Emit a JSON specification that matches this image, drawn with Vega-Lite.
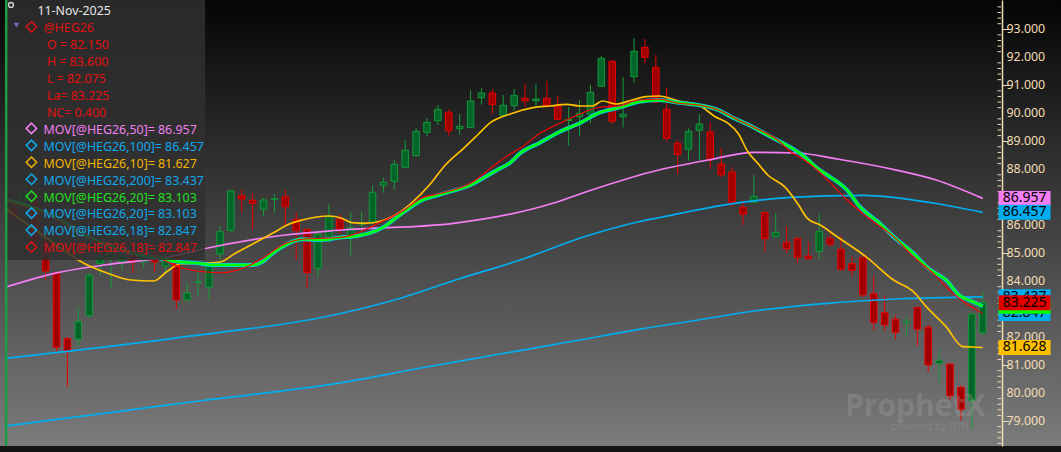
{
  "$schema": "https://vega.github.io/schema/vega-lite/v6.json",
  "width": 1061,
  "height": 446,
  "autosize": {"type": "none"},
  "padding": {"left": 0, "top": 0, "right": 0, "bottom": 6},
  "background": "#141414",
  "config": {
    "view": {"stroke": null, "fill": {"gradient": "linear", "x1": 0, "y1": 0, "x2": 0, "y2": 1, "stops": [{"offset": 0, "color": "#050505"}, {"offset": 1, "color": "#7b7b7b"}]}},
    "font": "Noto Sans",
    "text": {"font": "Noto Sans", "fontSize": 12.4, "align": "left", "baseline": "alphabetic"}
  },
  "datasets": {
    "candles": [
      {"i":0,"o":86.613,"h":86.72,"l":86.184,"c":86.327},
      {"i":1,"o":86.827,"h":87.328,"l":86.72,"c":87.185},
      {"i":2,"o":86.827,"h":86.97,"l":85.291,"c":85.433},
      {"i":3,"o":85.433,"h":85.541,"l":84.04,"c":84.362},
      {"i":4,"o":84.301,"h":84.336,"l":81.477,"c":81.634},
      {"i":5,"o":81.942,"h":82.003,"l":80.226,"c":81.513},
      {"i":6,"o":81.931,"h":83.111,"l":81.656,"c":82.549},
      {"i":7,"o":82.778,"h":84.29,"l":82.682,"c":84.208},
      {"i":8,"o":84.637,"h":85.112,"l":84.218,"c":84.873},
      {"i":9,"o":84.826,"h":85.362,"l":83.754,"c":85.148},
      {"i":10,"o":84.683,"h":85.183,"l":84.397,"c":84.933},
      {"i":11,"o":84.933,"h":85.112,"l":84.29,"c":84.683},
      {"i":12,"o":84.683,"h":85.112,"l":84.469,"c":84.898},
      {"i":13,"o":85.005,"h":85.291,"l":84.326,"c":84.683},
      {"i":14,"o":84.54,"h":84.969,"l":84.326,"c":84.755},
      {"i":15,"o":84.873,"h":85.041,"l":83.003,"c":83.325},
      {"i":16,"o":83.325,"h":83.933,"l":83.307,"c":83.575},
      {"i":17,"o":83.95,"h":84.397,"l":83.432,"c":83.979},
      {"i":18,"o":83.79,"h":84.683,"l":83.325,"c":84.576},
      {"i":19,"o":84.969,"h":85.97,"l":84.755,"c":85.766},
      {"i":20,"o":85.816,"h":87.256,"l":85.766,"c":87.221},
      {"i":21,"o":87.053,"h":87.292,"l":86.445,"c":86.935},
      {"i":22,"o":86.888,"h":87.138,"l":85.827,"c":86.781},
      {"i":23,"o":86.567,"h":86.97,"l":86.302,"c":86.899},
      {"i":24,"o":86.924,"h":87.113,"l":86.445,"c":86.945},
      {"i":25,"o":87.017,"h":87.256,"l":85.945,"c":86.66},
      {"i":26,"o":86.209,"h":86.445,"l":84.755,"c":85.802},
      {"i":27,"o":85.852,"h":85.87,"l":83.743,"c":84.301},
      {"i":28,"o":84.458,"h":85.827,"l":84.158,"c":85.684},
      {"i":29,"o":85.566,"h":86.756,"l":85.373,"c":86.302},
      {"i":30,"o":86.209,"h":86.399,"l":85.684,"c":85.863},
      {"i":31,"o":85.587,"h":86.47,"l":84.908,"c":85.909},
      {"i":32,"o":86.041,"h":86.47,"l":85.709,"c":86.095},
      {"i":33,"o":86.102,"h":87.41,"l":86.066,"c":87.174},
      {"i":34,"o":87.424,"h":87.696,"l":87.16,"c":87.532},
      {"i":35,"o":87.567,"h":88.329,"l":87.256,"c":88.175},
      {"i":36,"o":88.068,"h":89.043,"l":88.043,"c":88.675},
      {"i":37,"o":88.482,"h":89.462,"l":88.454,"c":89.354},
      {"i":38,"o":89.319,"h":89.819,"l":89.161,"c":89.676},
      {"i":39,"o":89.733,"h":90.294,"l":89.579,"c":90.141},
      {"i":40,"o":90.033,"h":90.141,"l":89.197,"c":89.376},
      {"i":41,"o":89.447,"h":89.973,"l":89.233,"c":89.533},
      {"i":42,"o":89.483,"h":90.82,"l":89.472,"c":90.437},
      {"i":43,"o":90.555,"h":90.891,"l":90.305,"c":90.723},
      {"i":44,"o":90.723,"h":90.855,"l":89.983,"c":90.305},
      {"i":45,"o":89.912,"h":90.652,"l":89.901,"c":90.284},
      {"i":46,"o":90.269,"h":90.866,"l":90.091,"c":90.641},
      {"i":47,"o":90.534,"h":91.045,"l":90.234,"c":90.448},
      {"i":48,"o":90.448,"h":91.045,"l":90.259,"c":90.509},
      {"i":49,"o":90.534,"h":91.152,"l":90.212,"c":90.284},
      {"i":50,"o":90.259,"h":90.616,"l":89.758,"c":89.783},
      {"i":51,"o":89.74,"h":90.212,"l":88.84,"c":89.776},
      {"i":52,"o":89.876,"h":90.473,"l":89.197,"c":89.998},
      {"i":53,"o":89.962,"h":91.009,"l":89.64,"c":90.748},
      {"i":54,"o":90.963,"h":92.046,"l":90.956,"c":91.963},
      {"i":55,"o":91.856,"h":91.903,"l":89.604,"c":89.712},
      {"i":56,"o":89.876,"h":91.295,"l":89.497,"c":89.962},
      {"i":57,"o":91.306,"h":92.689,"l":91.07,"c":92.214},
      {"i":58,"o":92.356,"h":92.653,"l":91.785,"c":91.999},
      {"i":59,"o":91.642,"h":92.081,"l":90.355,"c":90.391},
      {"i":60,"o":90.141,"h":90.891,"l":88.983,"c":89.104},
      {"i":61,"o":88.925,"h":89.043,"l":87.817,"c":88.532},
      {"i":62,"o":88.711,"h":89.462,"l":88.304,"c":89.354},
      {"i":63,"o":89.39,"h":89.973,"l":88.304,"c":89.615},
      {"i":64,"o":89.329,"h":89.651,"l":88.007,"c":88.339},
      {"i":65,"o":88.186,"h":88.757,"l":87.71,"c":87.803},
      {"i":66,"o":87.9,"h":88.068,"l":86.66,"c":86.756},
      {"i":67,"o":86.638,"h":86.899,"l":86.016,"c":86.388},
      {"i":68,"o":86.817,"h":87.792,"l":86.781,"c":87.031},
      {"i":69,"o":86.459,"h":86.47,"l":85.051,"c":85.516},
      {"i":70,"o":85.587,"h":86.424,"l":85.587,"c":85.745},
      {"i":71,"o":85.387,"h":85.97,"l":84.994,"c":85.158},
      {"i":72,"o":85.53,"h":85.551,"l":84.637,"c":84.851},
      {"i":73,"o":84.898,"h":85.409,"l":84.79,"c":84.801},
      {"i":74,"o":85.065,"h":86.424,"l":84.78,"c":85.78},
      {"i":75,"o":85.53,"h":85.709,"l":85.23,"c":85.316},
      {"i":76,"o":85.137,"h":85.623,"l":84.372,"c":84.422},
      {"i":77,"o":84.622,"h":84.898,"l":84.158,"c":84.386},
      {"i":78,"o":84.851,"h":84.862,"l":83.421,"c":83.504},
      {"i":79,"o":83.55,"h":84.193,"l":82.228,"c":82.528},
      {"i":80,"o":82.871,"h":83.468,"l":82.228,"c":82.431},
      {"i":81,"o":82.635,"h":82.778,"l":81.92,"c":82.17},
      {"i":82,"o":82.539,"h":82.728,"l":82.049,"c":82.557},
      {"i":83,"o":83.064,"h":83.08,"l":81.692,"c":82.278},
      {"i":84,"o":82.349,"h":82.467,"l":80.762,"c":81.002},
      {"i":85,"o":81.063,"h":81.563,"l":80.369,"c":81.17},
      {"i":86,"o":81.038,"h":81.05,"l":79.751,"c":79.905},
      {"i":87,"o":80.205,"h":80.287,"l":79.011,"c":79.419},
      {"i":88,"o":79.74,"h":82.86,"l":78.704,"c":82.825},
      {"i":89,"o":82.15,"h":83.6,"l":82.075,"c":83.225}
    ],
    "ma": [
      {"s":"MOV200","i":-0.73,"v":78.82},{"s":"MOV200","i":8.36,"v":79.276},{"s":"MOV200","i":17.45,"v":79.733},{"s":"MOV200","i":30.18,"v":80.369},{"s":"MOV200","i":37.45,"v":80.895},{"s":"MOV200","i":44.73,"v":81.395},{"s":"MOV200","i":52,"v":81.895},{"s":"MOV200","i":57.45,"v":82.278},{"s":"MOV200","i":62.91,"v":82.61},{"s":"MOV200","i":68.36,"v":82.95},{"s":"MOV200","i":74.73,"v":83.207},{"s":"MOV200","i":81.09,"v":83.361},{"s":"MOV200","i":89,"v":83.437},
      {"s":"MOV100","i":-0.73,"v":81.241},{"s":"MOV100","i":14.73,"v":81.956},{"s":"MOV100","i":30.18,"v":82.85},{"s":"MOV100","i":35.64,"v":83.396},{"s":"MOV100","i":40.82,"v":84.065},{"s":"MOV100","i":46.55,"v":84.755},{"s":"MOV100","i":52.64,"v":85.612},{"s":"MOV100","i":57.45,"v":86.123},{"s":"MOV100","i":59.27,"v":86.266},{"s":"MOV100","i":65.64,"v":86.745},{"s":"MOV100","i":71.36,"v":86.995},{"s":"MOV100","i":78.09,"v":87.067},{"s":"MOV100","i":84.73,"v":86.774},{"s":"MOV100","i":89,"v":86.457},
      {"s":"MOV50","i":-0.73,"v":83.779},{"s":"MOV50","i":3.82,"v":84.279},{"s":"MOV50","i":8.36,"v":84.576},{"s":"MOV50","i":14.73,"v":84.898},{"s":"MOV50","i":17.45,"v":85.148},{"s":"MOV50","i":25,"v":85.648},{"s":"MOV50","i":30.18,"v":85.827},{"s":"MOV50","i":40.45,"v":86.066},{"s":"MOV50","i":49.55,"v":86.781},{"s":"MOV50","i":52.64,"v":87.196},{"s":"MOV50","i":59.27,"v":87.971},{"s":"MOV50","i":63.82,"v":88.329},{"s":"MOV50","i":68,"v":88.604},{"s":"MOV50","i":72,"v":88.579},{"s":"MOV50","i":75.64,"v":88.364},{"s":"MOV50","i":80.18,"v":88.043},{"s":"MOV50","i":84.73,"v":87.614},{"s":"MOV50","i":89,"v":86.957},
      {"s":"MOV10","i":-0.73,"v":86.613},{"s":"MOV10","i":2.91,"v":85.587},{"s":"MOV10","i":6.82,"v":84.576},{"s":"MOV10","i":8.64,"v":84.29},{"s":"MOV10","i":10.82,"v":84.04},{"s":"MOV10","i":12.91,"v":84.004},{"s":"MOV10","i":14.09,"v":84.326},{"s":"MOV10","i":15.36,"v":84.62},{"s":"MOV10","i":17.45,"v":84.647},{"s":"MOV10","i":19,"v":84.683},{"s":"MOV10","i":20.45,"v":85.005},{"s":"MOV10","i":22,"v":85.326},{"s":"MOV10","i":23.82,"v":85.709},{"s":"MOV10","i":25.36,"v":86.041},{"s":"MOV10","i":26.55,"v":86.184},{"s":"MOV10","i":29,"v":86.327},{"s":"MOV10","i":30.18,"v":86.245},{"s":"MOV10","i":31.09,"v":86.088},{"s":"MOV10","i":32.27,"v":86.066},{"s":"MOV10","i":33.82,"v":86.148},{"s":"MOV10","i":35.36,"v":86.424},{"s":"MOV10","i":36.55,"v":86.781},{"s":"MOV10","i":38.36,"v":87.496},{"s":"MOV10","i":39.55,"v":88.089},{"s":"MOV10","i":41.36,"v":88.747},{"s":"MOV10","i":42.64,"v":89.222},{"s":"MOV10","i":43.82,"v":89.662},{"s":"MOV10","i":45.64,"v":89.973},{"s":"MOV10","i":47.73,"v":90.198},{"s":"MOV10","i":49.27,"v":90.259},{"s":"MOV10","i":50.82,"v":90.319},{"s":"MOV10","i":52,"v":90.259},{"s":"MOV10","i":53.18,"v":90.259},{"s":"MOV10","i":54.09,"v":90.437},{"s":"MOV10","i":55.36,"v":90.33},{"s":"MOV10","i":56.82,"v":90.473},{"s":"MOV10","i":58.09,"v":90.591},{"s":"MOV10","i":59.27,"v":90.616},{"s":"MOV10","i":61.09,"v":90.437},{"s":"MOV10","i":62.91,"v":90.294},{"s":"MOV10","i":64.45,"v":89.876},{"s":"MOV10","i":65.64,"v":89.64},{"s":"MOV10","i":66.55,"v":89.283},{"s":"MOV10","i":67.45,"v":88.625},{"s":"MOV10","i":68.36,"v":88.211},{"s":"MOV10","i":69.27,"v":87.792},{"s":"MOV10","i":70.82,"v":87.374},{"s":"MOV10","i":72,"v":86.781},{"s":"MOV10","i":72.91,"v":86.245},{"s":"MOV10","i":74.09,"v":86.005},{"s":"MOV10","i":75.64,"v":85.587},{"s":"MOV10","i":78.36,"v":84.851},{"s":"MOV10","i":80.82,"v":84.04},{"s":"MOV10","i":82.64,"v":83.622},{"s":"MOV10","i":83.82,"v":83.086},{"s":"MOV10","i":85.64,"v":82.371},{"s":"MOV10","i":87.18,"v":81.656},{"s":"MOV10","i":88.09,"v":81.645},{"s":"MOV10","i":89,"v":81.627},
      {"s":"MOV20","i":-0.73,"v":86.899},{"s":"MOV20","i":1.09,"v":86.72},{"s":"MOV20","i":3.82,"v":86.291},{"s":"MOV20","i":6.82,"v":85.577},{"s":"MOV20","i":9.91,"v":85.112},{"s":"MOV20","i":12.91,"v":84.862},{"s":"MOV20","i":15.36,"v":84.683},{"s":"MOV20","i":16.82,"v":84.647},{"s":"MOV20","i":18.36,"v":84.576},{"s":"MOV20","i":22,"v":84.576},{"s":"MOV20","i":22.91,"v":84.694},{"s":"MOV20","i":23.82,"v":84.994},{"s":"MOV20","i":24.73,"v":85.23},{"s":"MOV20","i":25.64,"v":85.409},{"s":"MOV20","i":26.55,"v":85.494},{"s":"MOV20","i":28.36,"v":85.469},{"s":"MOV20","i":30.18,"v":85.566},{"s":"MOV20","i":31.09,"v":85.587},{"s":"MOV20","i":33.82,"v":85.888},{"s":"MOV20","i":35.91,"v":86.481},{"s":"MOV20","i":37.45,"v":86.874},{"s":"MOV20","i":39.27,"v":87.103},{"s":"MOV20","i":42,"v":87.435},{"s":"MOV20","i":44.43,"v":87.971},{"s":"MOV20","i":45.64,"v":88.232},{"s":"MOV20","i":46.55,"v":88.568},{"s":"MOV20","i":48.36,"v":88.947},{"s":"MOV20","i":50.18,"v":89.34},{"s":"MOV20","i":52,"v":89.64},{"s":"MOV20","i":53.82,"v":90.019},{"s":"MOV20","i":55.64,"v":90.198},{"s":"MOV20","i":57.45,"v":90.412},{"s":"MOV20","i":59.27,"v":90.473},{"s":"MOV20","i":61.09,"v":90.377},{"s":"MOV20","i":62.91,"v":90.294},{"s":"MOV20","i":64.73,"v":90.116},{"s":"MOV20","i":65.91,"v":89.876},{"s":"MOV20","i":67.73,"v":89.544},{"s":"MOV20","i":69.55,"v":89.161},{"s":"MOV20","i":71.36,"v":88.783},{"s":"MOV20","i":72.64,"v":88.447},{"s":"MOV20","i":73.82,"v":88.032},{"s":"MOV20","i":74.73,"v":87.792},{"s":"MOV20","i":76.55,"v":87.256},{"s":"MOV20","i":77.73,"v":86.66},{"s":"MOV20","i":79.55,"v":86.066},{"s":"MOV20","i":80.82,"v":85.587},{"s":"MOV20","i":82.64,"v":84.994},{"s":"MOV20","i":84.09,"v":84.43},{"s":"MOV20","i":85.64,"v":84.04},{"s":"MOV20","i":86.82,"v":83.504},{"s":"MOV20","i":88.09,"v":83.264},{"s":"MOV20","i":89,"v":83.103},
      {"s":"MOV18","i":-0.73,"v":86.85},{"s":"MOV18","i":3.82,"v":86.25},{"s":"MOV18","i":6.82,"v":85.55},{"s":"MOV18","i":9.91,"v":85.1},{"s":"MOV18","i":12.91,"v":84.9},{"s":"MOV18","i":15.64,"v":84.458},{"s":"MOV18","i":17.45,"v":84.337},{"s":"MOV18","i":19.27,"v":84.301},{"s":"MOV18","i":21.09,"v":84.458},{"s":"MOV18","i":22.91,"v":84.815},{"s":"MOV18","i":24.73,"v":85.291},{"s":"MOV18","i":26.55,"v":85.494},{"s":"MOV18","i":28.36,"v":85.53},{"s":"MOV18","i":30.18,"v":85.566},{"s":"MOV18","i":31.36,"v":85.684},{"s":"MOV18","i":33.82,"v":86.124},{"s":"MOV18","i":35.91,"v":86.542},{"s":"MOV18","i":37.45,"v":86.96},{"s":"MOV18","i":39.27,"v":87.138},{"s":"MOV18","i":42,"v":87.496},{"s":"MOV18","i":44.43,"v":88.211},{"s":"MOV18","i":45.64,"v":88.543},{"s":"MOV18","i":46.55,"v":88.747},{"s":"MOV18","i":48.36,"v":89.283},{"s":"MOV18","i":50.18,"v":89.64},{"s":"MOV18","i":52,"v":89.962},{"s":"MOV18","i":53.82,"v":90.212},{"s":"MOV18","i":55.64,"v":90.259},{"s":"MOV18","i":57.45,"v":90.473},{"s":"MOV18","i":59.27,"v":90.498},{"s":"MOV18","i":61.09,"v":90.355},{"s":"MOV18","i":62.91,"v":90.294},{"s":"MOV18","i":64.73,"v":90.116},{"s":"MOV18","i":66.55,"v":89.758},{"s":"MOV18","i":68.36,"v":89.426},{"s":"MOV18","i":70.18,"v":89.043},{"s":"MOV18","i":71.36,"v":88.625},{"s":"MOV18","i":72.64,"v":88.329},{"s":"MOV18","i":73.82,"v":87.971},{"s":"MOV18","i":75.64,"v":87.257},{"s":"MOV18","i":76.55,"v":86.899},{"s":"MOV18","i":78.36,"v":86.302},{"s":"MOV18","i":80.82,"v":85.587},{"s":"MOV18","i":82.64,"v":84.873},{"s":"MOV18","i":84.45,"v":84.279},{"s":"MOV18","i":86.27,"v":83.564},{"s":"MOV18","i":87.45,"v":83.207},{"s":"MOV18","i":89,"v":82.847}
    ],
    "minor": [
      {"v":78.2},{"v":78.4},{"v":78.6},{"v":78.8},{"v":79.2},{"v":79.4},{"v":79.6},{"v":79.8},{"v":80.2},{"v":80.4},{"v":80.6},{"v":80.8},{"v":81.2},{"v":81.4},{"v":81.6},{"v":81.8},{"v":82.2},{"v":82.4},{"v":82.6},{"v":82.8},{"v":83.2},{"v":83.4},{"v":83.6},{"v":83.8},{"v":84.2},{"v":84.4},{"v":84.6},{"v":84.8},{"v":85.2},{"v":85.4},{"v":85.6},{"v":85.8},{"v":86.2},{"v":86.4},{"v":86.6},{"v":86.8},{"v":87.2},{"v":87.4},{"v":87.6},{"v":87.8},{"v":88.2},{"v":88.4},{"v":88.6},{"v":88.8},{"v":89.2},{"v":89.4},{"v":89.6},{"v":89.8},{"v":90.2},{"v":90.4},{"v":90.6},{"v":90.8},{"v":91.2},{"v":91.4},{"v":91.6},{"v":91.8},{"v":92.2},{"v":92.4},{"v":92.6},{"v":92.8},{"v":93.2},{"v":93.4},{"v":93.6},{"v":93.8}
    ],
    "major": [
      {"v":79},{"v":80},{"v":81},{"v":82},{"v":84},{"v":85},{"v":86},{"v":88},{"v":89},{"v":90},{"v":91},{"v":92},{"v":93}
    ],
    "lab": [
      {"s":"MOV50","v":86.957,"t":"86.957","g":"a"},
      {"s":"MOV100","v":86.457,"t":"86.457","g":"a"},
      {"s":"MOV10","v":81.628,"t":"81.628","g":"a"},
      {"s":"MOV200","v":83.437,"t":"83.437","g":"a"},
      {"s":"MOV18b","v":82.847,"t":"82.847","g":"a"},
      {"s":"MOV20","v":83.103,"t":"83.103","g":"b"},
      {"s":"HEG","v":83.225,"t":"83.225","g":"c"}
    ]
  },
  "layer": [
    {
      "data": {"name": "candles"},
      "mark": {"type": "rule", "strokeWidth": 1},
      "encoding": {
        "x": {"field": "i", "type": "quantitative", "scale": {"domain": [-0.7273, 95.7273], "nice": false, "zero": false}, "axis": null},
        "y": {"field": "l", "type": "quantitative", "scale": {"domain": [78.107, 94.047], "nice": false, "zero": false},
          "axis": {"orient": "right", "offset": -59, "title": null, "grid": false, "labels": false,
            "values": [79, 80, 81, 82, 83, 84, 85, 86, 87, 88, 89, 90, 91, 92, 93],
            "domainColor": "#f2dcb4", "domainWidth": 1.5, "tickColor": "#f2dcb4", "tickWidth": 1, "tickSize": 7}},
        "y2": {"field": "h"},
        "color": {"condition": {"test": "datum.c >= datum.o", "value": "#169c3a"}, "value": "#e80000"}
      }
    },
    {
      "data": {"name": "candles"},
      "mark": {"type": "bar", "size": 6.5, "strokeWidth": 1},
      "encoding": {
        "x": {"field": "i", "type": "quantitative"},
        "y": {"field": "o", "type": "quantitative"},
        "y2": {"field": "c"},
        "fill": {"condition": {"test": "datum.c >= datum.o", "value": "#04652a"}, "value": "#a20000"},
        "stroke": {"condition": {"test": "datum.c >= datum.o", "value": "#129a38"}, "value": "#e80000"}
      }
    },
    {
      "data": {"name": "ma"},
      "transform": [{"filter": {"field": "s", "oneOf": ["MOV200", "MOV100", "MOV50", "MOV10"]}}],
      "mark": {"type": "line", "interpolate": "monotone", "clip": true},
      "encoding": {
        "x": {"field": "i", "type": "quantitative"},
        "y": {"field": "v", "type": "quantitative"},
        "color": {"field": "s", "type": "nominal", "legend": null,
          "scale": {"domain": ["HEG", "MOV50", "MOV100", "MOV10", "MOV200", "MOV20", "MOV20b", "MOV18b", "MOV18"],
                    "range": ["#e00000", "#f57ef5", "#00aef0", "#ffc000", "#00aef0", "#00ff00", "#00aef0", "#00aef0", "#ff0000"]}},
        "strokeWidth": {"field": "s", "type": "nominal", "legend": null, "scale": {"domain": ["MOV200", "MOV100", "MOV50", "MOV10"], "range": [1.7, 1.7, 1.5, 1.1]}}
      }
    },
    {
      "data": {"name": "ma"},
      "transform": [{"filter": {"field": "s", "equal": "MOV20"}}],
      "mark": {"type": "line", "interpolate": "monotone", "clip": true, "strokeWidth": 4, "color": "#00c8f0"},
      "encoding": {"x": {"field": "i", "type": "quantitative"}, "y": {"field": "v", "type": "quantitative"}}
    },
    {
      "data": {"name": "ma"},
      "transform": [{"filter": {"field": "s", "equal": "MOV20"}}],
      "mark": {"type": "line", "interpolate": "monotone", "clip": true, "strokeWidth": 2.4, "color": "#00ff00"},
      "encoding": {"x": {"field": "i", "type": "quantitative"}, "y": {"field": "v", "type": "quantitative"}}
    },
    {
      "data": {"name": "ma"},
      "transform": [{"filter": {"field": "s", "equal": "MOV18"}}],
      "mark": {"type": "line", "interpolate": "monotone", "clip": true, "strokeWidth": 1.1, "color": "#ff0000"},
      "encoding": {"x": {"field": "i", "type": "quantitative"}, "y": {"field": "v", "type": "quantitative"}}
    },
    {
      "data": {"name": "minor"},
      "mark": {"type": "tick", "orient": "horizontal", "size": 3.5, "thickness": 1, "color": "#f2dcb4", "opacity": 1},
      "encoding": {"x": {"datum": 90.523}, "y": {"field": "v", "type": "quantitative"}}
    },
    {
      "data": {"name": "major"},
      "mark": {"type": "text", "baseline": "middle", "fontSize": 12.4, "fill": "#f2dcb4"},
      "encoding": {"x": {"datum": 91.18}, "y": {"field": "v", "type": "quantitative"}, "text": {"field": "v", "type": "quantitative", "format": ".3f"}}
    },
    {
      "data": {"values": [{}]},
      "mark": {"type": "rect", "fill": "#303030", "opacity": 0.85},
      "encoding": {"x": {"datum": -0.7273}, "x2": {"datum": 17.64}, "y": {"datum": 94.047}, "y2": {"datum": 84.755}}
    },
    {"data": {"values": [{}]}, "mark": {"type": "point", "shape": "circle", "filled": false, "size": 24, "strokeWidth": 1.3, "color": "#d8d8d8", "opacity": 1}, "encoding": {"x": {"datum": -0.18}, "y": {"datum": 93.87}}},
    {"data": {"values": [{}]}, "mark": {"type": "text", "text": "11-Nov-2025", "fill": "#e6e6e6"}, "encoding": {"x": {"datum": 2.245}, "y": {"datum": 93.511}}},
    {"data": {"values": [{}]}, "mark": {"type": "point", "shape": "triangle-down", "filled": true, "size": 30, "color": "#8a8aff"}, "encoding": {"x": {"datum": 0.32}, "y": {"datum": 93.153}}},
    {"data": {"values": [{}]}, "mark": {"type": "text", "text": "@HEG26", "fill": "#e01010"}, "encoding": {"x": {"datum": 2.8}, "y": {"datum": 92.903}}},
    {"data": {"values": [{}]}, "mark": {"type": "text", "text": "O = 82.150", "fill": "#e01010"}, "encoding": {"x": {"datum": 3.118}, "y": {"datum": 92.297}}},
    {"data": {"values": [{}]}, "mark": {"type": "text", "text": "H = 83.600", "fill": "#e01010"}, "encoding": {"x": {"datum": 3.118}, "y": {"datum": 91.692}}},
    {"data": {"values": [{}]}, "mark": {"type": "text", "text": "L = 82.075", "fill": "#e01010"}, "encoding": {"x": {"datum": 3.118}, "y": {"datum": 91.086}}},
    {"data": {"values": [{}]}, "mark": {"type": "text", "text": "La= 83.225", "fill": "#e01010"}, "encoding": {"x": {"datum": 3.118}, "y": {"datum": 90.48}}},
    {"data": {"values": [{}]}, "mark": {"type": "text", "text": "NC= 0.400", "fill": "#e01010"}, "encoding": {"x": {"datum": 3.118}, "y": {"datum": 89.874}}},
    {"data": {"values": [{}]}, "mark": {"type": "text", "text": "MOV[@HEG26,50]= 86.957", "fill": "#f080f0"}, "encoding": {"x": {"datum": 2.8}, "y": {"datum": 89.269}}},
    {"data": {"values": [{}]}, "mark": {"type": "text", "text": "MOV[@HEG26,100]= 86.457", "fill": "#10a8ec"}, "encoding": {"x": {"datum": 2.8}, "y": {"datum": 88.663}}},
    {"data": {"values": [{}]}, "mark": {"type": "text", "text": "MOV[@HEG26,10]= 81.627", "fill": "#f0b400"}, "encoding": {"x": {"datum": 2.8}, "y": {"datum": 88.057}}},
    {"data": {"values": [{}]}, "mark": {"type": "text", "text": "MOV[@HEG26,200]= 83.437", "fill": "#10a8ec"}, "encoding": {"x": {"datum": 2.8}, "y": {"datum": 87.451}}},
    {"data": {"values": [{}]}, "mark": {"type": "text", "text": "MOV[@HEG26,20]= 83.103", "fill": "#20e020"}, "encoding": {"x": {"datum": 2.8}, "y": {"datum": 86.845}}},
    {"data": {"values": [{}]}, "mark": {"type": "text", "text": "MOV[@HEG26,20]= 83.103", "fill": "#10a8ec"}, "encoding": {"x": {"datum": 2.8}, "y": {"datum": 86.24}}},
    {"data": {"values": [{}]}, "mark": {"type": "text", "text": "MOV[@HEG26,18]= 82.847", "fill": "#10a8ec"}, "encoding": {"x": {"datum": 2.8}, "y": {"datum": 85.634}}},
    {"data": {"values": [{}]}, "mark": {"type": "text", "text": "MOV[@HEG26,18]= 82.847", "fill": "#e01010"}, "encoding": {"x": {"datum": 2.8}, "y": {"datum": 85.028}}},
    {"data": {"values": [{}]}, "mark": {"type": "point", "shape": "diamond", "filled": false, "size": 110, "strokeWidth": 1.5, "opacity": 1, "color": "#e01010"}, "encoding": {"x": {"datum": 1.7}, "y": {"datum": 93.093}}},
    {"data": {"values": [{}]}, "mark": {"type": "point", "shape": "diamond", "filled": false, "size": 110, "strokeWidth": 1.5, "opacity": 1, "color": "#f080f0"}, "encoding": {"x": {"datum": 1.7}, "y": {"datum": 89.458}}},
    {"data": {"values": [{}]}, "mark": {"type": "point", "shape": "diamond", "filled": false, "size": 110, "strokeWidth": 1.5, "opacity": 1, "color": "#10a8ec"}, "encoding": {"x": {"datum": 1.7}, "y": {"datum": 88.852}}},
    {"data": {"values": [{}]}, "mark": {"type": "point", "shape": "diamond", "filled": false, "size": 110, "strokeWidth": 1.5, "opacity": 1, "color": "#f0b400"}, "encoding": {"x": {"datum": 1.7}, "y": {"datum": 88.247}}},
    {"data": {"values": [{}]}, "mark": {"type": "point", "shape": "diamond", "filled": false, "size": 110, "strokeWidth": 1.5, "opacity": 1, "color": "#10a8ec"}, "encoding": {"x": {"datum": 1.7}, "y": {"datum": 87.641}}},
    {"data": {"values": [{}]}, "mark": {"type": "point", "shape": "diamond", "filled": false, "size": 110, "strokeWidth": 1.5, "opacity": 1, "color": "#20e020"}, "encoding": {"x": {"datum": 1.7}, "y": {"datum": 87.035}}},
    {"data": {"values": [{}]}, "mark": {"type": "point", "shape": "diamond", "filled": false, "size": 110, "strokeWidth": 1.5, "opacity": 1, "color": "#10a8ec"}, "encoding": {"x": {"datum": 1.7}, "y": {"datum": 86.429}}},
    {"data": {"values": [{}]}, "mark": {"type": "point", "shape": "diamond", "filled": false, "size": 110, "strokeWidth": 1.5, "opacity": 1, "color": "#10a8ec"}, "encoding": {"x": {"datum": 1.7}, "y": {"datum": 85.823}}},
    {"data": {"values": [{}]}, "mark": {"type": "point", "shape": "diamond", "filled": false, "size": 110, "strokeWidth": 1.5, "opacity": 1, "color": "#e01010"}, "encoding": {"x": {"datum": 1.7}, "y": {"datum": 85.218}}},
    {"data": {"values": [{}]}, "mark": {"type": "text", "text": "ProphetX", "baseline": "middle", "fontSize": 30, "fontWeight": "bold", "font": "Open Sans", "fill": "#a8a8a8", "opacity": 0.28}, "encoding": {"x": {"datum": 76.36}, "y": {"datum": 79.5}}},
    {"data": {"values": [{}]}, "mark": {"type": "text", "text": "powered by DTN", "baseline": "middle", "fontSize": 10, "font": "Open Sans", "fill": "#a8a8a8", "opacity": 0.28}, "encoding": {"x": {"datum": 80.6}, "y": {"datum": 78.8}}},
    {
      "data": {"name": "lab"},
      "transform": [{"filter": {"field": "g", "equal": "a"}}],
      "mark": {"type": "tick", "orient": "horizontal", "size": 52, "thickness": 15, "opacity": 1},
      "encoding": {"x": {"datum": 92.84}, "y": {"field": "v", "type": "quantitative"}, "color": {"field": "s", "type": "nominal", "legend": null}}
    },
    {
      "data": {"name": "lab"},
      "transform": [{"filter": {"field": "g", "equal": "a"}}],
      "mark": {"type": "text", "align": "center", "baseline": "middle", "fontSize": 14, "fill": "#000000"},
      "encoding": {"x": {"datum": 92.84}, "y": {"field": "v", "type": "quantitative"}, "text": {"field": "t"}}
    },
    {
      "data": {"name": "lab"},
      "transform": [{"filter": {"field": "g", "equal": "b"}}],
      "mark": {"type": "tick", "orient": "horizontal", "size": 52, "thickness": 15, "opacity": 1},
      "encoding": {"x": {"datum": 92.84}, "y": {"field": "v", "type": "quantitative"}, "color": {"field": "s", "type": "nominal", "legend": null}}
    },
    {
      "data": {"name": "lab"},
      "transform": [{"filter": {"field": "g", "equal": "b"}}],
      "mark": {"type": "text", "align": "center", "baseline": "middle", "fontSize": 14, "fill": "#000000"},
      "encoding": {"x": {"datum": 92.84}, "y": {"field": "v", "type": "quantitative"}, "text": {"field": "t"}}
    },
    {
      "data": {"name": "lab"},
      "transform": [{"filter": {"field": "g", "equal": "c"}}],
      "mark": {"type": "tick", "orient": "horizontal", "size": 52, "thickness": 15, "opacity": 1},
      "encoding": {"x": {"datum": 92.84}, "y": {"field": "v", "type": "quantitative"}, "color": {"field": "s", "type": "nominal", "legend": null}}
    },
    {
      "data": {"name": "lab"},
      "transform": [{"filter": {"field": "g", "equal": "c"}}],
      "mark": {"type": "text", "align": "center", "baseline": "middle", "fontSize": 14, "fill": "#000000"},
      "encoding": {"x": {"datum": 92.84}, "y": {"field": "v", "type": "quantitative"}, "text": {"field": "t"}}
    },
    {
      "data": {"values": [{}]},
      "mark": {"type": "rule", "color": "#1f9b45", "strokeWidth": 2.5},
      "encoding": {"x": {"datum": -0.62}}
    }
  ]
}
